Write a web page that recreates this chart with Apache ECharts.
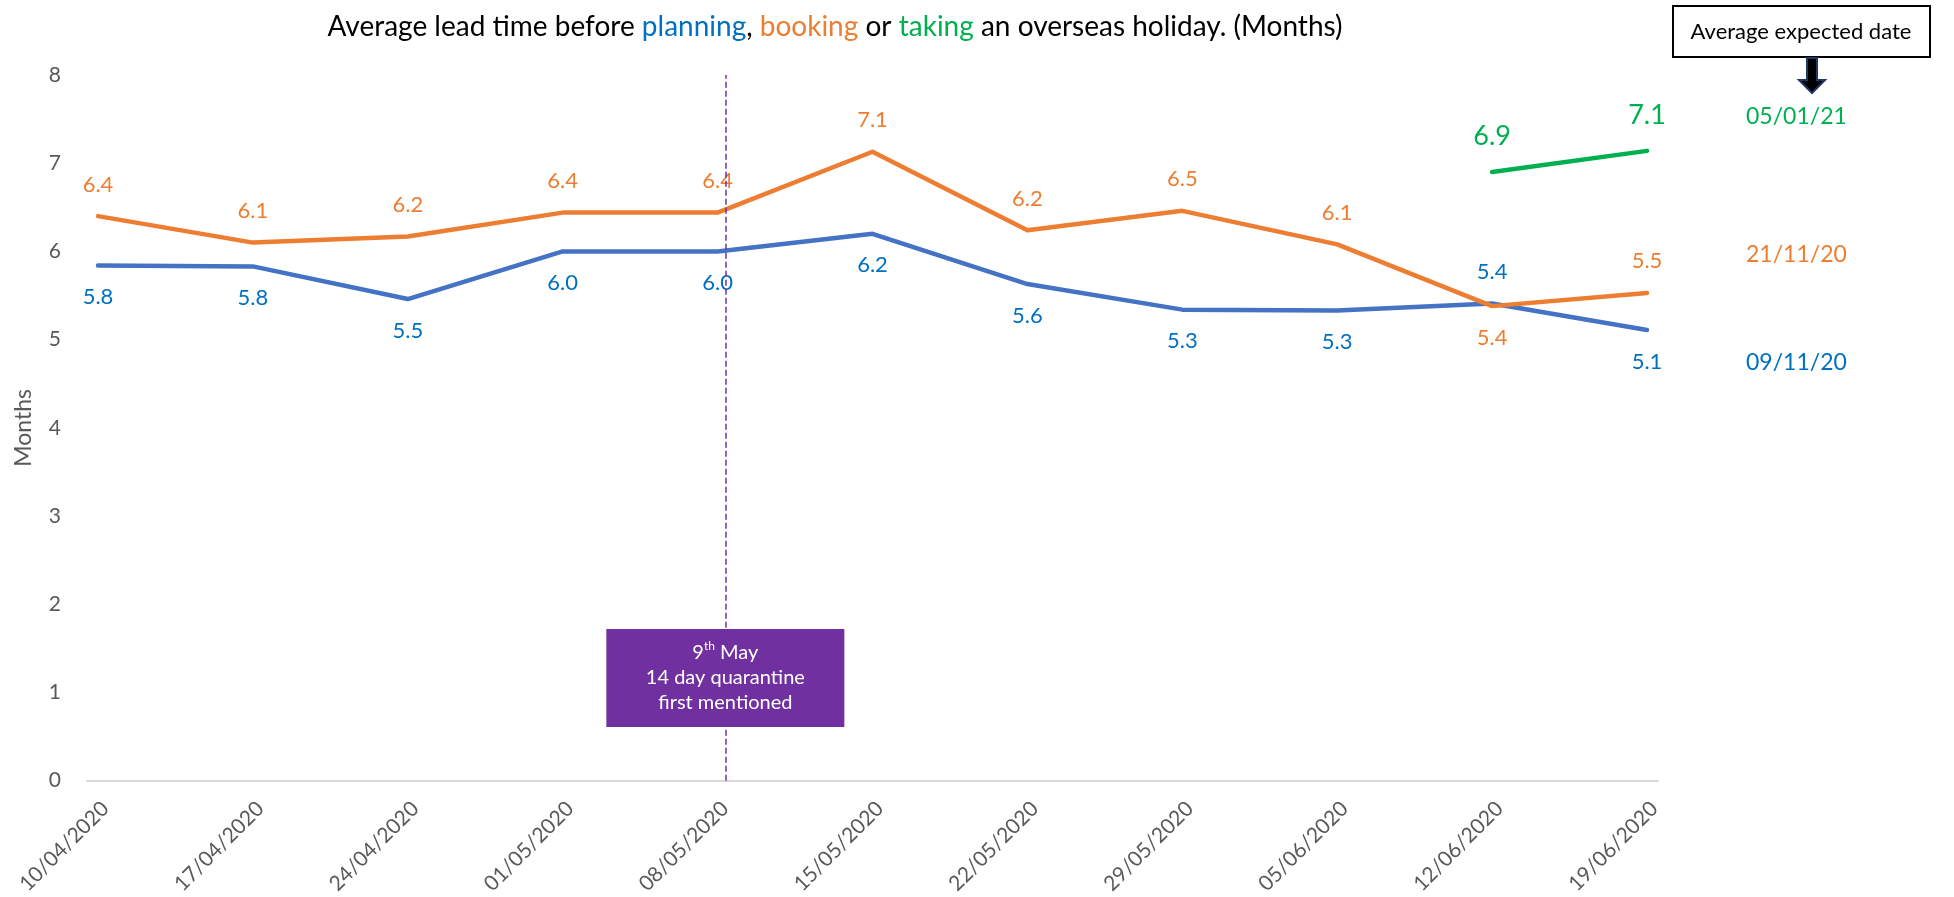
<!DOCTYPE html>
<html>
<head>
<meta charset="utf-8">
<script src="https://cdn.jsdelivr.net/npm/echarts@6/dist/echarts.min.js"></script>
<style>
  html, body { margin: 0; padding: 0; background: #fff; }
  #main { width: 1954px; height: 897px; }
</style>
</head>
<body>
<div id="main"></div>
<script>
// weekly survey dates
const dates = ['10/04/2020', '17/04/2020', '24/04/2020', '01/05/2020', '08/05/2020', '15/05/2020',
  '22/05/2020', '29/05/2020', '05/06/2020', '12/06/2020', '19/06/2020'];
// months until planning / booking / taking
const planning = [5.84, 5.83, 5.46, 6.0, 6.0, 6.2, 5.63, 5.34, 5.33, 5.41, 5.11];
const booking = [6.4, 6.1, 6.17, 6.44, 6.44, 7.13, 6.24, 6.46, 6.08, 5.38, 5.53];
const taking = [null, null, null, null, null, null, null, null, null, 6.9, 7.14];
const yTicks = [0, 1, 2, 3, 4, 5, 6, 7, 8];
// expected dates shown on the right
const expected = { taking: '05/01/21', booking: '21/11/20', planning: '09/11/20' };

const FONT = 'Lato';
const GREY = '#595959';
const quarantineX = 4.05; // 9th May, just after the 08/05 survey

const chart = echarts.init(document.getElementById('main'));

function pairs(arr, labelPos) {
  const out = [];
  arr.forEach((v, i) => {
    if (v === null) return;
    const item = { value: [i, v] };
    if (labelPos && labelPos[i]) item.label = { position: labelPos[i] };
    out.push(item);
  });
  return out;
}

function lineSeries(name, arr, lineColor, labelColor, pos, fontSize, extra) {
  return Object.assign({
    name: name,
    type: 'line',
    data: arr,
    symbol: 'circle',
    symbolSize: 1,
    showSymbol: true,
    itemStyle: { color: lineColor },
    lineStyle: { color: lineColor, width: 4.5, cap: 'round', join: 'round' },
    label: {
      show: true,
      position: pos,
      distance: fontSize > 24 ? 22 : 20,
      color: labelColor,
      fontSize: fontSize,
      fontFamily: FONT,
      formatter: p => p.value[1].toFixed(1)
    },
    z: 3
  }, extra || {});
}

const option = {
  animation: false,
  backgroundColor: '#fff',
  grid: { left: 87, right: 296, top: 75, bottom: 115 },
  xAxis: {
    type: 'value',
    min: -0.071,
    max: dates.length - 1 + 0.071,
    splitLine: { show: false },
    axisTick: { show: false },
    axisLine: { show: true, lineStyle: { color: '#D9D9D9', width: 2 } },
    axisLabel: {
      customValues: dates.map((d, i) => i),
      rotate: 45,
      margin: 17,
      verticalAlign: 'top',
      color: GREY,
      fontSize: 21,
      fontFamily: FONT,
      formatter: v => dates[v] || ''
    }
  },
  yAxis: {
    type: 'value',
    min: yTicks[0],
    max: yTicks[yTicks.length - 1],
    interval: 1,
    name: 'Months',
    nameLocation: 'middle',
    nameRotate: 90,
    nameGap: 52,
    nameTextStyle: { color: GREY, fontSize: 23, fontFamily: FONT },
    splitLine: { show: false },
    axisTick: { show: false },
    axisLine: { show: false },
    axisLabel: { color: GREY, fontSize: 21, fontFamily: FONT, margin: 26 }
  },
  series: [
    lineSeries('planning', pairs(planning, { 9: 'top' }), '#4472C4', '#0070C0', 'bottom', 22, {
      markLine: {
        silent: true,
        symbol: 'none',
        label: { show: false },
        lineStyle: { color: '#7030A0', type: 'dashed', width: 1.5 },
        data: [{ xAxis: quarantineX }]
      },
      markPoint: {
        silent: true,
        symbol: 'rect',
        symbolSize: [238, 98],
        itemStyle: { color: '#7030A0' },
        label: {
          show: true,
          position: 'inside',
          color: '#fff',
          fontFamily: FONT,
          fontSize: 20,
          lineHeight: 25,
          align: 'center',
          formatter: '9{sup|th} May\n14 day quarantine\nfirst mentioned',
          rich: {
            sup: { fontSize: 12, color: '#fff', fontFamily: FONT, verticalAlign: 'top', lineHeight: 25, padding: [0, 0, 10, 0] }
          }
        },
        data: [{ coord: [quarantineX, 1.165] }]
      }
    }),
    lineSeries('booking', pairs(booking, { 9: 'bottom' }), '#ED7D31', '#ED7D31', 'top', 22),
    lineSeries('taking', pairs(taking), '#00B050', '#00B050', 'top', 27)
  ],
  graphic: [
    {
      type: 'text',
      x: 835, y: 27,
      style: {
        text: 'Average lead time before {b|planning}, {o|booking} or {g|taking} an overseas holiday. (Months)',
        fill: '#000',
        font: '28px ' + FONT,
        align: 'center',
        verticalAlign: 'middle',
        rich: {
          b: { fill: '#0070C0', fontSize: 28, fontFamily: FONT },
          o: { fill: '#ED7D31', fontSize: 28, fontFamily: FONT },
          g: { fill: '#00B050', fontSize: 28, fontFamily: FONT }
        }
      }
    },
    {
      type: 'rect',
      shape: { x: 1673, y: 6, width: 257, height: 51 },
      style: { fill: '#fff', stroke: '#000', lineWidth: 2 }
    },
    {
      type: 'text',
      x: 1801, y: 32,
      style: { text: 'Average expected date', fill: '#000', font: '22px ' + FONT, align: 'center', verticalAlign: 'middle' }
    },
    {
      type: 'polygon',
      shape: { points: [[1807, 58], [1817, 58], [1817, 80], [1825, 80], [1812, 93], [1799, 80], [1807, 80]] },
      style: { fill: '#000', stroke: '#203864', lineWidth: 2 }
    },
    {
      type: 'text', x: 1746, y: 117,
      style: { text: expected.taking, fill: '#00B050', font: '23px ' + FONT, verticalAlign: 'middle' }
    },
    {
      type: 'text', x: 1746, y: 255,
      style: { text: expected.booking, fill: '#ED7D31', font: '23px ' + FONT, verticalAlign: 'middle' }
    },
    {
      type: 'text', x: 1746, y: 363,
      style: { text: expected.planning, fill: '#0070C0', font: '23px ' + FONT, verticalAlign: 'middle' }
    }
  ]
};

chart.setOption(option);
window.addEventListener('resize', () => chart.resize());
</script>
</body>
</html>
